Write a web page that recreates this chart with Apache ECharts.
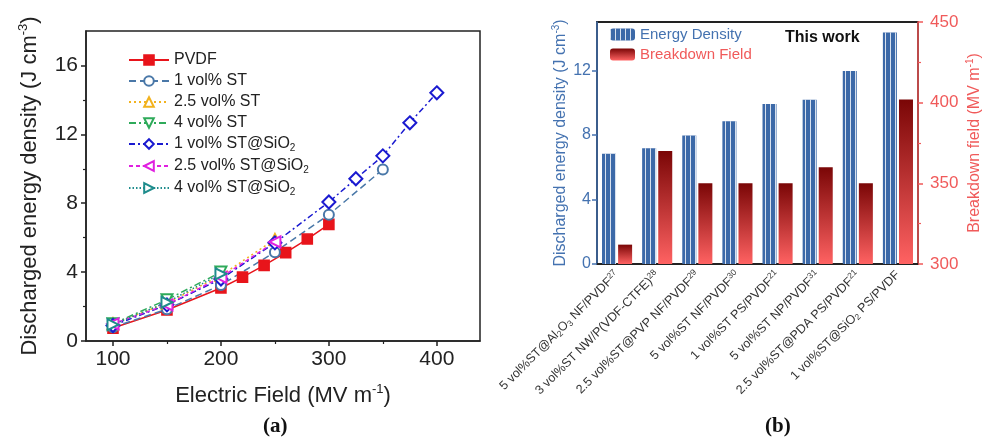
<!doctype html>
<html>
<head>
<meta charset="utf-8">
<title>Energy density comparison</title>
<script src="https://cdn.jsdelivr.net/npm/echarts@6/dist/echarts.min.js"></script>
<style>
  html, body { margin: 0; padding: 0; background: #fff; }
  #main { width: 986px; height: 441px; }
</style>
</head>
<body>
<div id="main"></div>
<script>
  // ---- panel (a): discharged energy density vs electric field ----
  var fieldPVDF = [100, 150, 200, 220, 240, 260, 280, 300];
  var energyPVDF = [0.75, 1.8, 3.08, 3.71, 4.39, 5.13, 5.92, 6.77];
  var field1ST = [100, 150, 200, 250, 300, 350];
  var energy1ST = [0.8, 1.85, 3.25, 5.16, 7.33, 9.96];
  var field25ST = [100, 150, 200, 250];
  var energy25ST = [1.0, 2.2, 3.8, 5.9];
  var field4ST = [100, 150, 200];
  var energy4ST = [1.0, 2.4, 4.0];
  var field1SiO2 = [100, 150, 200, 250, 300, 325, 350, 375, 400];
  var energy1SiO2 = [0.9, 2.1, 3.6, 5.7, 8.07, 9.42, 10.75, 12.67, 14.41];
  var field25SiO2 = [100, 150, 200, 250];
  var energy25SiO2 = [1.0, 2.1, 3.7, 5.75];
  var field4SiO2 = [100, 150, 200];
  var energy4SiO2 = [0.95, 2.25, 3.9];

  var fieldTicks = [100, 200, 300, 400];
  var fieldMinor = [150, 250, 350];
  var energyTicks = [0, 4, 8, 12, 16];
  var energyMinor = [2, 6, 10, 14];

  // ---- panel (b): comparison with literature ----
  var samples = [
    '5 vol%ST@Al{sub|2}O{sub|3} NF/PVDF{sup|27}',
    '3 vol%ST NW/P(VDF-CTFE){sup|28}',
    '2.5 vol%ST@PVP NF/PVDF{sup|29}',
    '5 vol%ST NF/PVDF{sup|30}',
    '1 vol%ST PS/PVDF{sup|21}',
    '5 vol%ST NP/PVDF{sup|31}',
    '2.5 vol%ST@PDA PS/PVDF{sup|21}',
    '1 vol%ST@SiO{sub|2} PS/PVDF'
  ];
  var energyDensity = [6.84, 7.17, 7.96, 8.85, 9.91, 10.18, 11.96, 14.35];
  var breakdownField = [312, 370, 350, 350, 350, 360, 350, 402];
  var densityTicks = [0, 4, 8, 12];
  var densityMinor = [2, 6, 10, 14];

  var ink = '#222';
  var blue = '#4472B0';
  var red = '#F05A5A';
  var font = 'Liberation Sans';

  function pairs(xs, ys) {
    return xs.map(function (x, i) { return [x, ys[i]]; });
  }

  function lineSeries(name, xs, ys, color, dash, symbol, rotate, size) {
    return {
      name: name,
      type: 'line',
      xAxisIndex: 0,
      yAxisIndex: 0,
      data: pairs(xs, ys),
      symbol: symbol,
      symbolSize: size,
      symbolRotate: rotate,
      showAllSymbol: true,
      lineStyle: { color: color, width: 1.5, type: dash },
      itemStyle: { color: color, borderColor: color, borderWidth: 1.6 },
      emphasis: { disabled: true }
    };
  }

  // extra axis on the same side, used only for the short minor ticks
  function minorAxis(grid, pos, min, max, values, color) {
    return {
      gridIndex: grid, type: 'value', position: pos, min: min, max: max,
      axisLine: { show: false },
      axisTick: { customValues: values, length: 3, lineStyle: { color: color, width: 1.2 } },
      axisLabel: { show: false },
      splitLine: { show: false }
    };
  }

  var subSup = {
    sub: { fontSize: 8.5, verticalAlign: 'bottom', padding: [6, 0, 0, 0] },
    sup: { fontSize: 8.5, verticalAlign: 'top', padding: [0, 0, 6, 0] }
  };

  var chart = echarts.init(document.getElementById('main'));

  var option = {
    animation: false,
    textStyle: { fontFamily: font },
    grid: [
      { left: 86, top: 31, width: 394, height: 310, show: true, borderColor: ink, borderWidth: 1.5, outerBoundsMode: 'none' },
      { left: 597, top: 22, width: 321, height: 242, show: true, borderColor: ink, borderWidth: 2, outerBoundsMode: 'none' }
    ],
    legend: [
      {
        left: 123, top: 47, orient: 'vertical',
        itemWidth: 40, itemHeight: 12, itemGap: 5,
        textStyle: { fontSize: 16, color: ink, rich: { sub: { fontSize: 10, verticalAlign: 'bottom', padding: [8, 0, 0, 0] } } },
        formatter: function (n) { return n.replace('SiO2', 'SiO{sub|2}'); },
        data: ['PVDF', '1 vol% ST', '2.5 vol% ST', '4 vol% ST', '1 vol% ST@SiO2', '2.5 vol% ST@SiO2', '4 vol% ST@SiO2']
      },
      {
        left: 605, top: 22, orient: 'vertical',
        itemWidth: 25, itemHeight: 12, itemGap: 5,
        textStyle: { fontSize: 15 },
        data: [
          { name: 'Energy Density', textStyle: { color: blue } },
          { name: 'Breakdown Field', textStyle: { color: red } }
        ]
      }
    ],
    xAxis: [
      {
        gridIndex: 0, type: 'value', position: 'bottom', min: 75, max: 440,
        axisLine: { lineStyle: { color: ink, width: 1.5 } },
        axisTick: { customValues: fieldTicks, length: 5, lineStyle: { color: ink, width: 1.5 } },
        axisLabel: { customValues: fieldTicks, fontSize: 21, color: ink, margin: 8 },
        splitLine: { show: false },
        name: 'Electric Field (MV m{sup|-1})', nameLocation: 'middle', nameGap: 42,
        nameTextStyle: { fontSize: 22, color: ink, rich: { sup: { fontSize: 13, verticalAlign: 'top', padding: [0, 0, 12, 0] } } }
      },
      minorAxis(0, 'bottom', 75, 440, fieldMinor, ink),
      {
        gridIndex: 1, type: 'category', data: samples, position: 'bottom',
        axisLine: { lineStyle: { color: ink, width: 2 } },
        axisTick: { show: false },
        axisLabel: { interval: 0, rotate: 45, fontSize: 12.5, color: '#333', margin: 9, rich: subSup }
      }
    ],
    yAxis: [
      {
        gridIndex: 0, type: 'value', position: 'left', min: 0, max: 18,
        axisLine: { show: true, lineStyle: { color: ink, width: 1.5 } },
        axisTick: { show: true, customValues: energyTicks, length: 5, lineStyle: { color: ink, width: 1.5 } },
        axisLabel: { customValues: energyTicks, fontSize: 21, color: ink, margin: 8 },
        splitLine: { show: false },
        name: 'Discharged energy density (J cm{sup|-3})', nameLocation: 'middle', nameGap: 44, nameRotate: 90,
        nameTextStyle: { fontSize: 22, color: ink, rich: { sup: { fontSize: 13, verticalAlign: 'top', padding: [0, 0, 12, 0] } } }
      },
      minorAxis(0, 'left', 0, 18, energyMinor, ink),
      {
        gridIndex: 1, type: 'value', position: 'left', min: 0, max: 15,
        axisLine: { show: true, lineStyle: { color: blue, width: 1.5 } },
        axisTick: { show: true, customValues: densityTicks, length: 5, lineStyle: { color: blue, width: 1.5 } },
        axisLabel: { customValues: densityTicks, fontSize: 16, color: blue, margin: 6 },
        splitLine: { show: false },
        name: 'Discharged energy density (J cm{sup|-3})', nameLocation: 'middle', nameGap: 27, nameRotate: 90,
        nameTextStyle: { fontSize: 16, color: blue, rich: { sup: { fontSize: 10, verticalAlign: 'top', padding: [0, 0, 9, 0] } } }
      },
      minorAxis(1, 'left', 0, 15, densityMinor, blue),
      {
        gridIndex: 1, type: 'value', position: 'right', min: 300, max: 450, interval: 50,
        axisLine: { show: true, lineStyle: { color: red, width: 1.5 } },
        axisTick: { show: true, length: 5, lineStyle: { color: red, width: 1.5 } },
        minorTick: { show: true, splitNumber: 2, length: 3, lineStyle: { color: red, width: 1.2 } },
        axisLabel: { fontSize: 17, color: red, margin: 12 },
        splitLine: { show: false },
        name: 'Breakdown field (MV m{sup|-1})', nameLocation: 'middle', nameGap: 47, nameRotate: 90,
        nameTextStyle: { fontSize: 16, color: red, rich: { sup: { fontSize: 10, verticalAlign: 'top', padding: [0, 0, 9, 0] } } }
      }
    ],
    series: [
      lineSeries('PVDF', fieldPVDF, energyPVDF, '#E8141B', 'solid', 'rect', 0, 10),
      lineSeries('1 vol% ST', field1ST, energy1ST, '#4A78A8', [7, 4], 'emptyCircle', 0, 10),
      lineSeries('2.5 vol% ST', field25ST, energy25ST, '#F2B21E', [2, 3], 'emptyTriangle', 0, 11),
      lineSeries('4 vol% ST', field4ST, energy4ST, '#2EAA5A', [7, 3, 2, 3], 'emptyTriangle', 180, 11),
      lineSeries('1 vol% ST@SiO2', field1SiO2, energy1SiO2, '#1A1AD0', [6, 3, 2, 3], 'emptyDiamond', 0, 13),
      lineSeries('2.5 vol% ST@SiO2', field25SiO2, energy25SiO2, '#E020E0', [4, 3], 'emptyTriangle', 90, 11),
      lineSeries('4 vol% ST@SiO2', field4SiO2, energy4SiO2, '#1E8C8C', [1.5, 2], 'emptyTriangle', -90, 11),
      {
        name: 'Energy Density', type: 'bar', xAxisIndex: 2, yAxisIndex: 2,
        data: energyDensity, barWidth: 14, barGap: '15%',
        itemStyle: {
          color: '#3C69A8',
          decal: {
            symbol: 'rect', symbolSize: 1, color: 'rgba(255,255,255,0.8)',
            dashArrayX: [1, 3.5], dashArrayY: [4, 0], rotation: 0
          }
        }
      },
      {
        name: 'bdBase', type: 'bar', xAxisIndex: 2, yAxisIndex: 4, stack: 'bd', silent: true,
        data: breakdownField.map(function () { return 300; }), barWidth: 14,
        itemStyle: { color: 'rgba(0,0,0,0)' }
      },
      {
        name: 'Breakdown Field', type: 'bar', xAxisIndex: 2, yAxisIndex: 4, stack: 'bd',
        data: breakdownField.map(function (v) { return v - 300; }), barWidth: 14,
        itemStyle: {
          color: new echarts.graphic.LinearGradient(0, 0, 0, 1, [
            { offset: 0, color: '#7A0606' },
            { offset: 1, color: '#FF6262' }
          ])
        }
      }
    ],
    graphic: [
      { type: 'text', left: 785, top: 30, style: { text: 'This work', font: 'bold 16px "Liberation Sans"', fill: '#111' } },
      { type: 'text', left: 263, top: 416, style: { text: '(a)', font: 'bold 21px "Liberation Serif"', fill: '#111' } },
      { type: 'text', left: 765, top: 416, style: { text: '(b)', font: 'bold 21px "Liberation Serif"', fill: '#111' } }
    ]
  };

  chart.setOption(option);
</script>
</body>
</html>
